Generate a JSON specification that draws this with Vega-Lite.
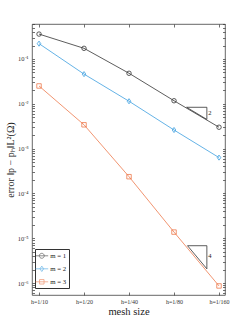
{
  "$schema": "https://vega.github.io/schema/vega-lite/v6.json",
  "autosize": "none",
  "width": 193,
  "height": 271,
  "padding": {"left": 32, "top": 24, "right": 24, "bottom": 37},
  "background": "white",
  "config": {
    "view": {"stroke": "#404040", "strokeWidth": 0.8},
    "font": "Liberation Serif",
    "axis": {"grid": false, "domain": false, "ticks": true, "tickColor": "#333333", "tickWidth": 0.7, "labelColor": "#333333", "titleColor": "#222222", "labelFont": "Liberation Serif", "titleFont": "Liberation Serif", "titleFontWeight": "normal", "labelOverlap": false, "labelBound": false},
    "legend": {"title": null, "orient": "none", "legendX": 3, "legendY": 225, "padding": 2.3,
      "strokeColor": "#333333", "fillColor": "white", "symbolSize": 64, "symbolStrokeWidth": 0.8,
      "symbolOffset": 0, "labelFont": "Liberation Serif", "labelFontSize": 6.8, "labelColor": "#222222",
      "labelOffset": 4, "rowPadding": 4}
  },
  "datasets": {
    "errors": [
      {"i": 0, "m": "1", "err": 0.36},
      {"i": 1, "m": "1", "err": 0.173},
      {"i": 2, "m": "1", "err": 0.048},
      {"i": 3, "m": "1", "err": 0.0117},
      {"i": 4, "m": "1", "err": 0.0030},
      {"i": 0, "m": "2", "err": 0.22},
      {"i": 1, "m": "2", "err": 0.046},
      {"i": 2, "m": "2", "err": 0.0114},
      {"i": 3, "m": "2", "err": 0.0026},
      {"i": 4, "m": "2", "err": 0.00063},
      {"i": 0, "m": "3", "err": 0.025},
      {"i": 1, "m": "3", "err": 0.0034},
      {"i": 2, "m": "3", "err": 0.000236},
      {"i": 3, "m": "3", "err": 0.0000137},
      {"i": 4, "m": "3", "err": 0.00000086}
    ],
    "triangles": [
      {"tri": "a", "o": 1, "i": 3.28, "err": 0.00836},
      {"tri": "a", "o": 2, "i": 3.73, "err": 0.00836},
      {"tri": "a", "o": 3, "i": 3.73, "err": 0.00448},
      {"tri": "a", "o": 4, "i": 3.28, "err": 0.00836},
      {"tri": "b", "o": 1, "i": 3.30, "err": 0.0000068},
      {"tri": "b", "o": 2, "i": 3.73, "err": 0.0000068},
      {"tri": "b", "o": 3, "i": 3.73, "err": 0.00000207},
      {"tri": "b", "o": 4, "i": 3.30, "err": 0.0000068}
    ],
    "slopes": [
      {"i": 3.76, "err": 0.00614, "txt": "2"},
      {"i": 3.76, "err": 0.0000040, "txt": "4"}
    ]
  },
  "resolve": {"axis": {"x": "independent", "y": "independent"}, "scale": {"color": "independent", "shape": "independent"}},
  "layer": [
    {
      "data": {"name": "errors"},
      "mark": {"type": "line", "strokeWidth": 0.8},
      "encoding": {
        "x": {"field": "i", "type": "quantitative", "scale": {"domain": [-0.156, 4.133], "nice": false, "zero": false},
          "axis": {"orient": "bottom", "values": [0, 1, 2, 3, 4], "tickSize": -3, "labelPadding": 6, "labelFontSize": 6,
            "labelExpr": "['h=1/10','h=1/20','h=1/40','h=1/80','h=1/160'][datum.value]",
            "title": "mesh size", "titleFontSize": 10.5, "titlePadding": 2}},
        "y": {"field": "err", "type": "quantitative", "scale": {"type": "log", "domain": [0.00000054, 0.604], "nice": false},
          "axis": {"orient": "left", "tickSize": -2.5, "labelPadding": 6.5, "labelFontSize": 6.5,
            "values": [6e-7, 7e-7, 8e-7, 9e-7, 1e-6, 2e-6, 3e-6, 4e-6, 5e-6, 6e-6, 7e-6, 8e-6, 9e-6, 1e-5, 2e-5, 3e-5, 4e-5, 5e-5, 6e-5, 7e-5, 8e-5, 9e-5, 1e-4, 2e-4, 3e-4, 4e-4, 5e-4, 6e-4, 7e-4, 8e-4, 9e-4, 1e-3, 2e-3, 3e-3, 4e-3, 5e-3, 6e-3, 7e-3, 8e-3, 9e-3, 1e-2, 2e-2, 3e-2, 4e-2, 5e-2, 6e-2, 7e-2, 8e-2, 9e-2, 0.1, 0.2, 0.3, 0.4, 0.5, 0.6],
            "labelExpr": "abs(log(datum.value)/LN10 - round(log(datum.value)/LN10)) < 0.001 ? '10' + ['⁻⁷','⁻⁶','⁻⁵','⁻⁴','⁻³','⁻²','⁻¹'][round(log(datum.value)/LN10)+7] : ''",
            "title": "error ‖p − pₕ‖L²(Ω)", "titleFontSize": 10, "titlePadding": 2}},
        "color": {"field": "m", "type": "nominal", "scale": {"domain": ["1", "2", "3"], "range": ["#333333", "#3E9FE0", "#EE7A4C"]}, "legend": null}
      }
    },
    {
      "data": {"name": "errors"},
      "mark": {"type": "point", "filled": false, "size": 20, "strokeWidth": 0.8, "opacity": 1},
      "encoding": {
        "x": {"field": "i", "type": "quantitative",
          "axis": {"orient": "top", "values": [0, 1, 2, 3, 4], "labels": false, "title": null, "tickSize": -3}},
        "y": {"field": "err", "type": "quantitative",
          "axis": {"orient": "right", "labels": false, "title": null, "tickSize": -2.5,
            "values": [6e-7, 7e-7, 8e-7, 9e-7, 1e-6, 2e-6, 3e-6, 4e-6, 5e-6, 6e-6, 7e-6, 8e-6, 9e-6, 1e-5, 2e-5, 3e-5, 4e-5, 5e-5, 6e-5, 7e-5, 8e-5, 9e-5, 1e-4, 2e-4, 3e-4, 4e-4, 5e-4, 6e-4, 7e-4, 8e-4, 9e-4, 1e-3, 2e-3, 3e-3, 4e-3, 5e-3, 6e-3, 7e-3, 8e-3, 9e-3, 1e-2, 2e-2, 3e-2, 4e-2, 5e-2, 6e-2, 7e-2, 8e-2, 9e-2, 0.1, 0.2, 0.3, 0.4, 0.5, 0.6]}},
        "color": {"field": "m", "type": "nominal", "scale": {"domain": ["1", "2", "3"], "range": ["#333333", "#3E9FE0", "#EE7A4C"]}, "legend": null},
        "shape": {"field": "m", "type": "nominal",
          "scale": {"domain": ["1", "2", "3"], "range": ["circle", "M0,-1.15L0.8,0L0,1.15L-0.8,0Z", "square"]},
          "legend": null}
      }
    },
    {
      "data": {"name": "errors"},
      "transform": [{"filter": "datum.i < 0"}],
      "mark": {"type": "point", "filled": false, "size": 20, "strokeWidth": 0.8},
      "encoding": {
        "x": {"field": "i", "type": "quantitative", "axis": null},
        "y": {"field": "err", "type": "quantitative", "axis": null},
        "color": {"field": "m", "type": "nominal", "scale": {"domain": ["1", "2", "3"], "range": ["#333333", "#3E9FE0", "#EE7A4C"]},
          "legend": {"labelExpr": "'m = ' + datum.label"}},
        "shape": {"field": "m", "type": "nominal",
          "scale": {"domain": ["1", "2", "3"], "range": ["M-1.6,0H1.6M0.62,0A0.62,0.62 0 1 1 -0.62,0A0.62,0.62 0 1 1 0.62,0", "M-1.6,0H1.6M0,-0.68L0.46,0L0,0.68L-0.46,0Z", "M-1.6,0H1.6M-0.56,-0.56H0.56V0.56H-0.56Z"]},
          "legend": {"labelExpr": "'m = ' + datum.label"}}
      }
    },
    {
      "data": {"name": "triangles"},
      "mark": {"type": "line", "strokeWidth": 0.8, "color": "#333333"},
      "encoding": {
        "x": {"field": "i", "type": "quantitative", "axis": null},
        "y": {"field": "err", "type": "quantitative", "axis": null},
        "detail": {"field": "tri"},
        "order": {"field": "o", "type": "quantitative"}
      }
    },
    {
      "data": {"name": "slopes"},
      "mark": {"type": "text", "align": "left", "baseline": "middle", "fontSize": 6.5, "font": "Liberation Serif", "color": "#222222"},
      "encoding": {
        "x": {"field": "i", "type": "quantitative", "axis": null},
        "y": {"field": "err", "type": "quantitative", "axis": null},
        "text": {"field": "txt"}
      }
    }
  ]
}
